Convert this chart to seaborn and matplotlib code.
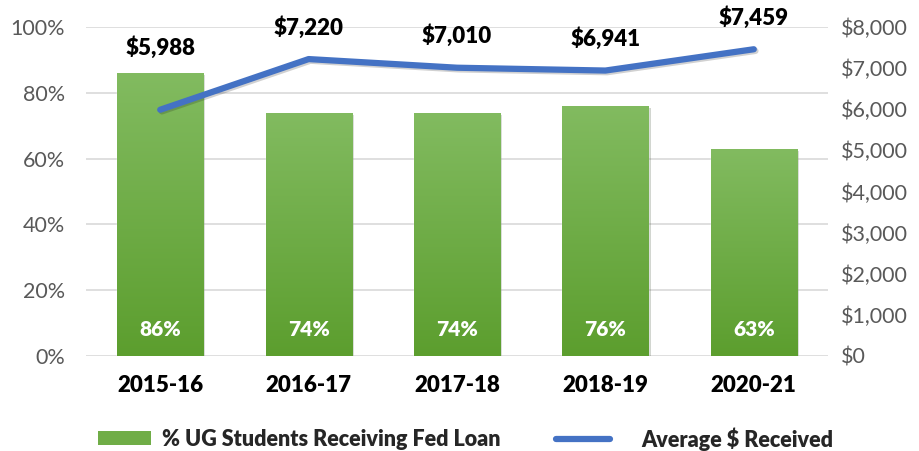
import matplotlib
matplotlib.use("Agg")
import matplotlib.pyplot as plt
import matplotlib.patheffects as pe
from matplotlib.patches import Patch
from matplotlib.lines import Line2D
from matplotlib.colors import LinearSegmentedColormap
from matplotlib.font_manager import FontProperties
import numpy as np
import pandas as pd
import seaborn as sns

years = ["2015-16", "2016-17", "2017-18", "2018-19", "2020-21"]
pct_loan = [86, 74, 74, 76, 63]
avg_received = [5988, 7220, 7010, 6941, 7459]
pct_ticks = [0, 20, 40, 60, 80, 100]
dollar_ticks = [0, 1000, 2000, 3000, 4000, 5000, 6000, 7000, 8000]

bar_label = "% UG Students Receiving Fed Loan"
line_label = "Average $ Received"

sns.set_theme(style="white")
plt.rcParams["font.family"] = ["Lato", "DejaVu Sans"]


def bold(size):
    return FontProperties(family=["Lato", "DejaVu Sans"], weight="heavy", size=size)


df = pd.DataFrame({"year": years, "pct": pct_loan, "avg": avg_received})

fig = plt.figure(figsize=(9.19, 4.51), dpi=100)
ax = fig.add_axes([86 / 919, 1 - 356 / 451, 742 / 919, 329 / 451])

sns.barplot(data=df, x="year", y="pct", color="#70AD47", width=0.58,
            ax=ax, zorder=2, saturation=1)
ax.set_ylim(0, 100)
ax.set_xlim(-0.5, len(years) - 0.5)

# vertical green gradient inside each bar, with a soft drop shadow
cmap = LinearSegmentedColormap.from_list("g", ["#5C9E2E", "#82BB60"])
grad = np.linspace(0, 1, 256).reshape(-1, 1)
for p in ax.patches:
    x0, y0, w, h = p.get_x(), p.get_y(), p.get_width(), p.get_height()
    p.set_path_effects([pe.SimplePatchShadow(offset=(1.5, -1.5), alpha=0.2), pe.Normal()])
    im = ax.imshow(grad, cmap=cmap, origin="lower", aspect="auto",
                   extent=[x0, x0 + w, y0, y0 + h], zorder=2.5)
    im.set_clip_path(p)

for i, v in enumerate(pct_loan):
    ax.text(i, 8, f"{v}%", ha="center", va="center", color="white",
            fontproperties=bold(15), zorder=4)

ax.set_yticks(pct_ticks)
ax.set_yticklabels([f"{t}%" for t in pct_ticks])
ax.yaxis.grid(True, color="#D9D9D9", linewidth=1.2)
ax.set_axisbelow(True)
ax.tick_params(axis="y", colors="#595959", labelsize=15.5, length=0, pad=15)
ax.tick_params(axis="x", colors="black", length=0, pad=14)
for lbl in ax.get_xticklabels():
    lbl.set_fontproperties(bold(16))
ax.set_xlabel("")
ax.set_ylabel("")
for s in ax.spines.values():
    s.set_visible(False)

ax2 = ax.twinx()
sns.lineplot(data=df, x="year", y="avg", ax=ax2, color="#4472C4", linewidth=4.5,
             sort=False, zorder=5,
             path_effects=[pe.SimpleLineShadow(offset=(1.2, -1.2), alpha=0.2), pe.Normal()])
ax2.set_ylim(0, 8000)
ax2.set_xlim(-0.5, len(years) - 0.5)
ax2.set_yticks(dollar_ticks)
ax2.set_yticklabels([f"${t:,}" for t in dollar_ticks])
ax2.tick_params(axis="y", colors="#595959", labelsize=15.5, length=0, pad=9)
ax2.set_ylabel("")
ax2.grid(False)
for s in ax2.spines.values():
    s.set_visible(False)

# value labels above the line; the first one is lifted clear of its bar
label_offsets = [45, 23, 23, 23, 23]
for i, v in enumerate(avg_received):
    ax2.annotate(f"${v:,}", (i, v), xytext=(0, label_offsets[i]),
                 textcoords="offset points", ha="center", va="center",
                 fontproperties=bold(16), color="black", zorder=6)

# legend: one entry per box so each can be placed on its own
leg_y = 1 - 439 / 451
fig.legend([Patch(facecolor="#70AD47", edgecolor="none")], [bar_label],
           loc="center left", bbox_to_anchor=(98 / 919, leg_y), frameon=False,
           prop=bold(15.5), handlelength=2.45, handleheight=0.65,
           handletextpad=0.5, borderpad=0, borderaxespad=0)
fig.legend([Line2D([0], [0], color="#4472C4", linewidth=4.5, solid_capstyle="round")],
           [line_label], loc="center left", bbox_to_anchor=(556 / 919, leg_y),
           frameon=False, prop=bold(15.5), handlelength=2.5,
           handletextpad=1.45, borderpad=0, borderaxespad=0)

fig.savefig("out.png", dpi=100)
